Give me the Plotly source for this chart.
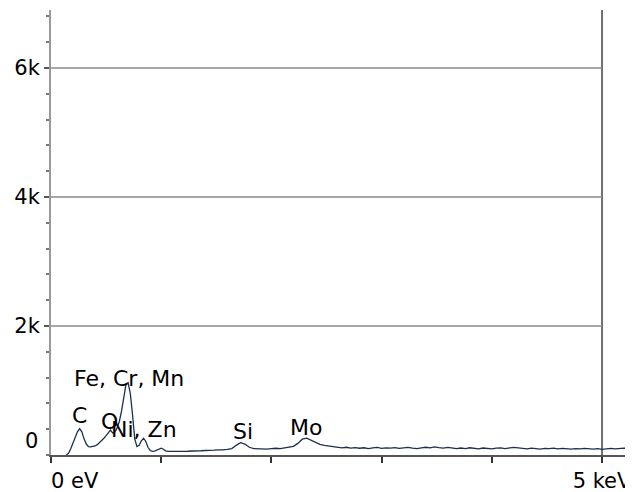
import plotly.graph_objects as go

# EDS spectrum: energy (keV) and counts
energy_kev = [
    0.14, 0.16, 0.18, 0.20, 0.22, 0.24, 0.26, 0.28, 0.30, 0.32, 0.34, 0.36, 0.38,
    0.40, 0.42, 0.44, 0.46, 0.48, 0.50, 0.52, 0.54, 0.56, 0.58, 0.60, 0.62, 0.64,
    0.66, 0.68, 0.70, 0.72, 0.74, 0.76, 0.78, 0.80, 0.82, 0.84, 0.86, 0.88, 0.90,
    0.92, 0.94, 0.96, 0.98, 1.00, 1.02, 1.04, 1.06, 1.08, 1.10, 1.12, 1.14, 1.16,
    1.18, 1.20,
    1.24, 1.28, 1.32, 1.36, 1.40, 1.44, 1.48, 1.52, 1.56, 1.60, 1.64, 1.68, 1.72,
    1.76, 1.80, 1.84, 1.88, 1.92, 1.96, 2.00, 2.04, 2.08, 2.12, 2.16, 2.20, 2.24,
    2.28, 2.32, 2.36, 2.40, 2.44, 2.48, 2.52, 2.56, 2.60, 2.64, 2.68, 2.72, 2.76,
    2.80, 2.84, 2.88, 2.92, 2.96, 3.00, 3.04, 3.08, 3.12, 3.16, 3.20, 3.24, 3.28,
    3.32, 3.36, 3.40, 3.44, 3.48, 3.52, 3.56, 3.60, 3.64, 3.68, 3.72, 3.76, 3.80,
    3.84, 3.88, 3.92, 3.96, 4.00, 4.04, 4.08, 4.12, 4.16, 4.20, 4.24, 4.28, 4.32,
    4.36, 4.40, 4.44, 4.48, 4.52, 4.56, 4.60, 4.64, 4.68, 4.72, 4.76, 4.80, 4.84,
    4.88, 4.92, 4.96, 5.00, 5.04, 5.08, 5.12, 5.16, 5.20, 5.24, 5.28,
]
counts = [
    0, 30, 100, 180, 270, 360, 410, 360, 250, 170, 130, 125, 135,
    140, 160, 190, 230, 260, 300, 350, 385, 340, 355, 420, 520, 680,
    900, 1090, 1120, 950, 620, 250, 130, 150, 220, 260, 210, 120, 70,
    55, 60, 75, 100, 105, 90, 65, 55, 55, 50, 55, 52, 58,
    55, 60,
    58, 62, 60, 66, 70, 68, 75, 80, 78, 88, 100, 150, 190,
    170, 120, 100, 95, 100, 92, 98, 105, 100, 112, 120, 135, 180,
    245, 260, 225, 190, 165, 150, 140, 125, 118, 112, 120, 108, 115,
    105, 112, 100, 110, 118, 104, 112, 106, 115, 102, 110, 118, 108,
    100, 112, 120, 110, 125, 115, 108, 118, 104, 98, 108, 100, 112,
    104, 96, 108, 102, 95, 106, 110, 100, 112, 118, 110, 104, 96,
    106, 100, 92, 104, 98, 106, 94, 102, 96, 90, 100, 94, 104,
    96, 90, 98, 88, 96, 102, 94, 100, 106, 98, 104,
]

# Element labels and where they sit (keV, counts)
element_labels = ["C", "O", "Fe, Cr, Mn", "Ni, Zn", "Si", "Mo"]
label_kev = [0.263, 0.53, 0.712, 0.844, 1.742, 2.314]
label_counts = [605, 520, 1194, 388, 364, 419]

y_tick_vals = [2000, 4000, 6000]
y_tick_text = ["2k", "4k", "6k"]
x_tick_vals = [0, 1, 2, 3, 4, 5]
x_tick_text = ["", "", "", "", "", "5 keV"]

FONT = "DejaVu Sans"

fig = go.Figure()
fig.add_trace(go.Scatter(
    x=energy_kev, y=counts, mode="lines",
    line=dict(color="#1b2f4e", width=1.3),
    hoverinfo="skip", showlegend=False,
))

shapes = []
for v in y_tick_vals:
    shapes.append(dict(type="line", xref="x", yref="y", x0=0, x1=5, y0=v, y1=v,
                       line=dict(color="#8a8a8a", width=1.5), layer="below"))
shapes.append(dict(type="line", xref="x", yref="paper", x0=5, x1=5, y0=0, y1=1,
                   line=dict(color="#707070", width=2), layer="below"))

annotations = []
for t, xv, yv in zip(element_labels, label_kev, label_counts):
    annotations.append(dict(text=t, x=xv, y=yv, xref="x", yref="y",
                            showarrow=False, xanchor="center", yanchor="middle",
                            font=dict(family=FONT, size=22, color="black")))
# "0" on the value axis and "0 eV" on the energy axis
annotations.append(dict(text="0", x=0, y=0, xref="paper", yref="y", showarrow=False,
                        xanchor="right", yanchor="middle", xshift=-11, yshift=14,
                        font=dict(family=FONT, size=21, color="black")))
annotations.append(dict(text="0 eV", x=0, y=0, xref="x", yref="paper", showarrow=False,
                        xanchor="left", yanchor="top", xshift=-2, yshift=-12,
                        font=dict(family=FONT, size=21, color="black")))

fig.update_layout(
    width=625, height=484,
    margin=dict(l=43, r=0, t=2, b=37),
    paper_bgcolor="white", plot_bgcolor="white",
    font=dict(family=FONT, size=21, color="black"),
    shapes=shapes, annotations=annotations,
    xaxis=dict(range=[0, 5.281], showgrid=False, zeroline=False,
               showline=True, linecolor="#555555", linewidth=1.5,
               tickmode="array", tickvals=x_tick_vals, ticktext=x_tick_text,
               ticks="outside", ticklen=6, tickwidth=2, tickcolor="#333333",
               tickfont=dict(family=FONT, size=21, color="black")),
    yaxis=dict(range=[0, 6900], showgrid=False, zeroline=False,
               showline=True, linecolor="#9a9a9a", linewidth=2,
               tickmode="array", tickvals=y_tick_vals, ticktext=y_tick_text,
               ticks="outside", ticklen=5, tickwidth=2, tickcolor="#555555",
               tickfont=dict(family=FONT, size=21, color="black"),
               minor=dict(dtick=400, tick0=0, ticks="outside", ticklen=3,
                          tickwidth=2, tickcolor="#777777")),
)

fig.write_html("out.html")
